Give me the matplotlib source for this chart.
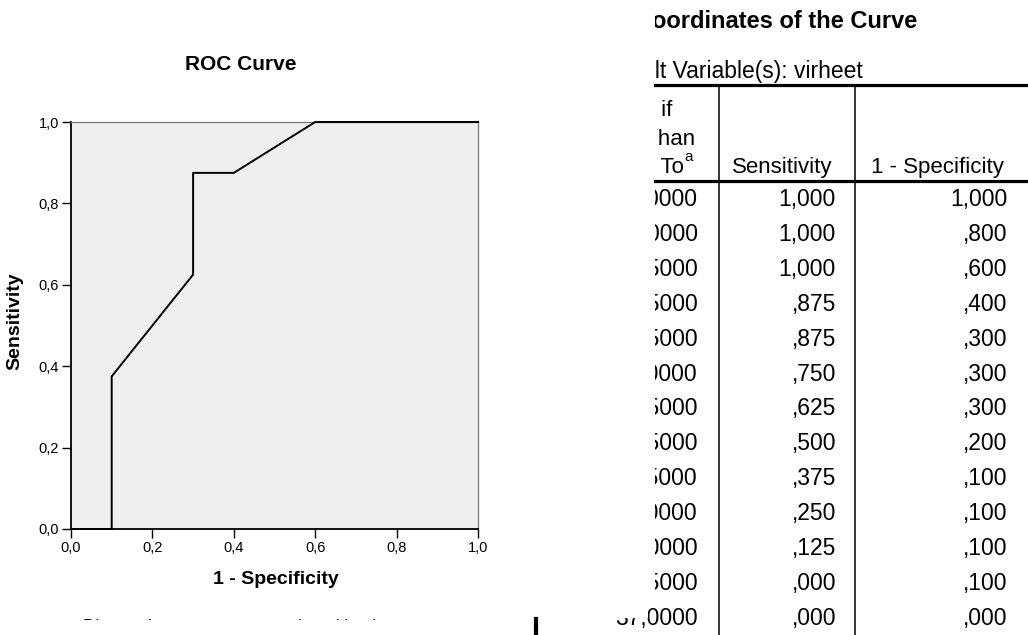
import matplotlib
matplotlib.use("Agg")
import matplotlib.pyplot as plt
import matplotlib.ticker as ticker
from matplotlib.patches import Rectangle

plt.rcParams['font.family'] = ['Liberation Sans', 'DejaVu Sans']

# coordinates of the ROC curve (as listed in the SPSS table)
cutoffs = [9.0, 11.0, 13.5, 15.5, 17.5, 20.0, 22.5, 24.5, 26.5, 29.0, 32.0, 34.5, 37.0]
sensitivity = [1.000, 1.000, 1.000, 0.875, 0.875, 0.750, 0.625, 0.500, 0.375, 0.250, 0.125, 0.000, 0.000]
one_minus_spec = [1.000, 0.800, 0.600, 0.400, 0.300, 0.300, 0.300, 0.200, 0.100, 0.100, 0.100, 0.100, 0.000]
axis_ticks = [0.0, 0.2, 0.4, 0.6, 0.8, 1.0]

W, H = 1028, 635


def comma1(v, _=None):
    return f"{v:.1f}".replace('.', ',')


def spss3(v):
    s = f"{v:.3f}".replace('.', ',')
    return s[1:] if s.startswith('0') else s


def spss4(v):
    return f"{v:.4f}".replace('.', ',')


fig = plt.figure(figsize=(W / 100, H / 100), dpi=100)

# ---- ROC chart ----
ax = fig.add_axes([71 / W, 1 - 529 / H, 407 / W, 407 / H])
ax.set_facecolor('#efefef')
ax.plot(one_minus_spec, sensitivity, color='black', lw=1.4, clip_on=False, zorder=5)
ax.set_xlim(0, 1)
ax.set_ylim(0, 1)
ax.set_xticks(axis_ticks)
ax.set_yticks(axis_ticks)
ax.xaxis.set_major_formatter(ticker.FuncFormatter(comma1))
ax.yaxis.set_major_formatter(ticker.FuncFormatter(comma1))
ax.tick_params(direction='out', length=6.5, width=1, labelsize=10.5, pad=2, colors='black')
for side in ['left', 'bottom']:
    ax.spines[side].set_color('black')
    ax.spines[side].set_linewidth(1.3)
for side in ['top', 'right']:
    ax.spines[side].set_color('#808080')
    ax.spines[side].set_linewidth(1.0)

# overlay in pixel units for the rest of the page
ov = fig.add_axes([0, 0, 1, 1])
ov.set_xlim(0, W)
ov.set_ylim(H, 0)
ov.axis('off')


def clipped(x, y, s, box, **kw):
    t = ov.text(x, y, s, clip_on=True, **kw)
    t.set_clip_path(Rectangle((box[0], box[1]), box[2] - box[0], box[3] - box[1],
                              transform=ov.transData))
    return t


ov.text(241, 64, 'ROC Curve', fontsize=15, fontweight='bold', ha='center', va='center')
ov.text(276, 580, '1 - Specificity', fontsize=14, fontweight='bold', ha='center', va='center')
ov.text(15, 321, 'Sensitivity', fontsize=14, fontweight='bold', ha='center', va='center',
        rotation=90)
clipped(83, 631, 'Diagonal segments are produced by ties.', (0, 0, 500, 620), fontsize=12.5)
ov.plot([536, 536], [619, 635], color='black', lw=3)

# ---- coordinates table ----
tbox = (655, 0, W, H)
hbox = (657, 0, W, H)
clipped(917, 28, 'Coordinates of the Curve', tbox, fontsize=17, fontweight='bold', ha='right')
clipped(863, 78, 'Test Result Variable(s): virheet', tbox, fontsize=16.5, ha='right')

ov.plot([655, W], [85, 85], color='black', lw=2.3)
ov.plot([655, W], [181, 181], color='black', lw=2.3)
ov.plot([719, 719], [85, H], color='black', lw=1.1)
ov.plot([855, 855], [85, H], color='black', lw=1.1)

clipped(672, 116, 'Positive if', hbox, fontsize=16, ha='right')
clipped(695, 145, 'Greater Than', (659, 0, W, H), fontsize=16, ha='right')
clipped(684, 173, 'or Equal To', hbox, fontsize=16, ha='right')
ov.text(684.5, 161, 'a', fontsize=11)
ov.text(832, 173, 'Sensitivity', fontsize=16, ha='right')
ov.text(1004, 173, '1 - Specificity', fontsize=16, ha='right')

pitch = 34.9
for i, (c, se, sp) in enumerate(zip(cutoffs, sensitivity, one_minus_spec)):
    yb = 206 + i * pitch
    if i == len(cutoffs) - 1:
        clipped(698, yb, spss4(c), (648, yb - 20, 720, yb + 8), fontsize=16.5, ha='right')
        clipped(698, yb, spss4(c), (598, yb - 7, 648, yb + 8), fontsize=16.5, ha='right')
    else:
        clipped(698, yb, spss4(c), tbox, fontsize=16.5, ha='right')
    ov.text(836, yb, spss3(se), fontsize=16.5, ha='right')
    ov.text(1007, yb, spss3(sp), fontsize=16.5, ha='right')

fig.savefig('out.png', dpi=100, facecolor='white')
